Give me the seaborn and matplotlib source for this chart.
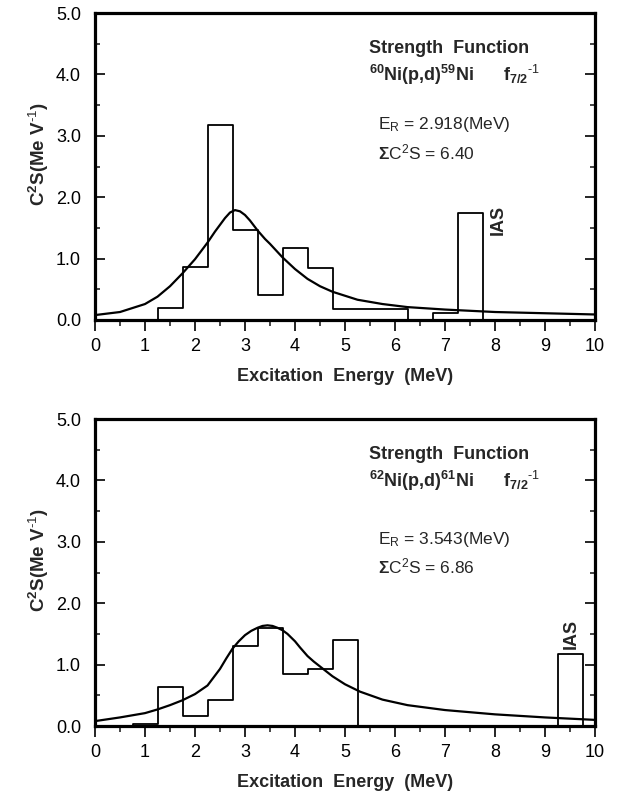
import numpy as np
import pandas as pd
import matplotlib
matplotlib.use("Agg")
import matplotlib.pyplot as plt
import seaborn as sns
from matplotlib.ticker import MultipleLocator, FormatStrFormatter

sns.set_theme(style="ticks")
plt.rcParams["font.family"] = ["Liberation Sans", "DejaVu Sans"]
plt.rcParams["mathtext.fontset"] = "custom"
plt.rcParams["mathtext.rm"] = "Liberation Sans"
plt.rcParams["mathtext.bf"] = "Liberation Sans:bold"
plt.rcParams["mathtext.it"] = "Liberation Sans:italic"
plt.rcParams["mathtext.default"] = "bf"

# ---------------- data ----------------
bin_width = 0.5

# 60Ni(p,d)59Ni
bins_60 = [1.5, 2.0, 2.5, 3.0, 3.5, 4.0, 4.5, 5.0, 5.5, 6.0, 6.5, 7.0, 7.5]
strength_60 = [0.20, 0.87, 3.18, 1.46, 0.40, 1.18, 0.84, 0.18, 0.18, 0.18, 0.0, 0.11, 1.74]
curve_e_60 = [0.0, 0.5, 1.0, 1.25, 1.5, 1.75, 2.0, 2.25, 2.4, 2.5, 2.6, 2.7, 2.8, 2.9, 3.0,
              3.1, 3.25, 3.4, 3.5, 3.75, 4.0, 4.25, 4.5, 4.75, 5.25, 5.75, 6.25, 7.0, 8.0, 9.0, 10.0]
curve_s_60 = [0.08, 0.13, 0.26, 0.38, 0.55, 0.76, 0.99, 1.26, 1.44, 1.55, 1.66, 1.75, 1.79, 1.77,
              1.71, 1.62, 1.46, 1.32, 1.24, 1.02, 0.83, 0.67, 0.55, 0.46, 0.33, 0.26, 0.21, 0.17,
              0.13, 0.11, 0.09]

# 62Ni(p,d)61Ni
bins_62 = [1.0, 1.5, 2.0, 2.5, 3.0, 3.5, 4.0, 4.5, 5.0, 5.5, 6.0, 6.5, 7.0, 7.5, 8.0, 8.5, 9.0, 9.5]
strength_62 = [0.04, 0.63, 0.16, 0.43, 1.30, 1.60, 0.85, 0.93, 1.40, 0, 0, 0, 0, 0, 0, 0, 0, 1.18]
curve_e_62 = [0.0, 0.5, 1.0, 1.25, 1.5, 1.75, 2.0, 2.25, 2.5, 2.625, 2.75, 2.875, 3.0, 3.125,
              3.25, 3.35, 3.45, 3.55, 3.65, 3.75, 3.85, 4.0, 4.1, 4.25, 4.375, 4.5, 4.75, 5.0,
              5.3, 5.75, 6.25, 7.0, 8.0, 9.0, 10.0]
curve_s_62 = [0.08, 0.14, 0.21, 0.27, 0.34, 0.42, 0.52, 0.66, 0.93, 1.10, 1.26, 1.38, 1.48, 1.55,
              1.60, 1.63, 1.64, 1.63, 1.60, 1.56, 1.50, 1.38, 1.28, 1.14, 1.05, 0.97, 0.81, 0.68,
              0.56, 0.43, 0.34, 0.26, 0.19, 0.14, 0.10]

panels = [
    dict(bins=bins_60, vals=strength_60, ce=curve_e_60, cs=curve_s_60,
         reaction=r"$^{60}$Ni(p,d)$^{59}$Ni", er="2.918", sum_s="6.40",
         er_y=3.18, sum_y=2.73, ias_x=8.06, ias_y=1.38),
    dict(bins=bins_62, vals=strength_62, ce=curve_e_62, cs=curve_s_62,
         reaction=r"$^{62}$Ni(p,d)$^{61}$Ni", er="3.543", sum_s="6.86",
         er_y=3.04, sum_y=2.60, ias_x=9.52, ias_y=1.26),
]

xticks = list(range(0, 11))
yticks = [0.0, 1.0, 2.0, 3.0, 4.0, 5.0]

fig = plt.figure(figsize=(6.25, 7.98), dpi=100)
ax_rects = [[0.152, 0.599, 0.80, 0.3847], [0.152, 0.0902, 0.80, 0.3847]]

for rect, p in zip(ax_rects, panels):
    ax = fig.add_axes(rect)
    centers = [p["bins"][0] - bin_width] + list(p["bins"]) + [p["bins"][-1] + bin_width]
    weights = [0.0] + list(p["vals"]) + [0.0]
    hist_df = pd.DataFrame({"E": centers, "S": weights})
    edges = list(np.arange(centers[0] - bin_width / 2, centers[-1] + bin_width, bin_width))
    sns.histplot(data=hist_df, x="E", weights="S", bins=edges, element="step", fill=False,
                 color="black", linewidth=1.3, ax=ax)
    curve_df = pd.DataFrame({"E": p["ce"], "S": p["cs"]})
    sns.lineplot(data=curve_df, x="E", y="S", color="black", linewidth=1.6, ax=ax)

    ax.set_xlim(0, 10)
    ax.set_ylim(0, 5)
    ax.set_xticks(xticks)
    ax.set_yticks(yticks)
    ax.yaxis.set_major_formatter(FormatStrFormatter("%.1f"))
    ax.xaxis.set_minor_locator(MultipleLocator(0.5))
    ax.yaxis.set_minor_locator(MultipleLocator(0.5))
    ax.tick_params(axis="x", which="major", direction="out", length=8, width=1.2,
                   labelsize=13, pad=5, colors="black")
    ax.tick_params(axis="x", which="minor", direction="out", length=4, width=1.2)
    ax.tick_params(axis="y", which="major", direction="in", length=7, width=1.2,
                   labelsize=13, pad=10, right=True, colors="black")
    ax.tick_params(axis="y", which="minor", direction="in", length=3.5, width=1.2, right=True)
    for s in ax.spines.values():
        s.set_visible(True)
        s.set_linewidth(2.3)
        s.set_color("black")

    ax.set_xlabel("Excitation  Energy  (MeV)", fontsize=13, fontweight="bold")
    ax.set_ylabel(r"C$^2$S(Me V$^{\text{-1}}$)", fontsize=13.5, fontweight="bold")
    ax.xaxis.set_label_coords(0.5, -0.155)
    ax.yaxis.set_label_coords(-0.088, 0.54)

    ax.text(5.48, 4.43, "Strength  Function", fontsize=13, fontweight="bold",
            ha="left", va="center")
    ax.text(5.48, 3.99, p["reaction"] + r"      f$_{7/2}$$^{\text{-1}}$", fontsize=13,
            fontweight="bold", ha="left", va="center")
    ax.text(5.66, p["er_y"], r"E$_\mathrm{R}$ = " + p["er"] + "(MeV)", fontsize=12.5,
            ha="left", va="center")
    ax.text(5.66, p["sum_y"], r"$\Sigma$C$^\mathrm{2}$S = " + p["sum_s"], fontsize=12.5,
            ha="left", va="center")
    ax.text(p["ias_x"], p["ias_y"], "IAS", rotation=90, fontsize=13, fontweight="bold",
            ha="center", va="bottom")

fig.savefig("out.png", dpi=100)
